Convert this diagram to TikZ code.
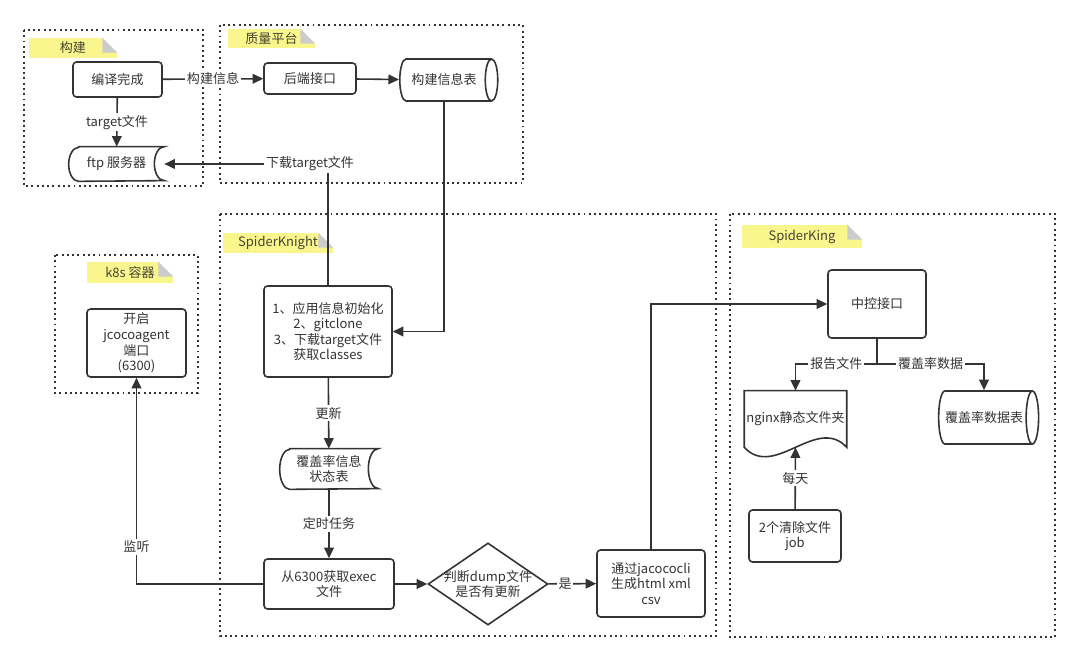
\documentclass[tikz,border=0pt]{standalone}
\usepackage{fontspec}
\setmainfont{Noto Sans CJK SC}
\usepackage{tikz}
\usetikzlibrary{shapes.geometric, arrows.meta, positioning, calc}
\definecolor{mydark}{RGB}{51,51,51}
\definecolor{notefill}{RGB}{250,246,142}
\definecolor{notefold}{RGB}{204,204,204}
\definecolor{notetext}{RGB}{70,70,50}
\tikzset{
  group/.style={draw=mydark, line width=1.1pt, dash pattern=on 1.1pt off 1.9pt},
  tag/.style={rectangle, fill=notefill, text=notetext, inner sep=0pt},
  box/.style={rectangle, draw=mydark, fill=white, align=center,
    rounded corners=2pt, line width=0.9pt, inner sep=1pt},
  store/.style={rectangle, align=center, inner sep=1pt},
  doc/.style={rectangle, align=center, inner sep=1pt},
  dbtable/.style={cylinder, shape border rotate=0, aspect=0.8, draw=mydark,
    fill=white, line width=0.9pt, align=center, inner sep=1pt},
  decision/.style={diamond, aspect=1.46, draw=mydark, fill=white,
    line width=0.9pt, align=center, inner sep=-1pt},
  outline/.style={draw=mydark, line width=0.9pt},
  arrow/.style={-{Triangle[length=6pt, width=5.5pt]}, line width=0.9pt, draw=mydark},
  line/.style={line width=0.9pt, draw=mydark},
  elabel/.style={fill=white, inner sep=1pt}
}
\begin{document}
\begin{tikzpicture}[x=0.02cm, y=-0.02cm, font=\fontsize{7.4}{8.9}\selectfont, text=mydark]
  \useasboundingbox (0,0) rectangle (1080,661);
  % groups
  \draw[group] (24,30) rectangle (203,186);
  \draw[group] (220,25) rectangle (523,183);
  \draw[group] (220,214) rectangle (716,636);
  \draw[group] (55,255) rectangle (198,393);
  \draw[group] (730,214) rectangle (1055,637);
  % group tags
  \node[tag, minimum width=1.76cm, minimum height=0.40cm] (buildtag) at (73,48) {构建};
  \node[tag, minimum width=1.74cm, minimum height=0.38cm] (qatag) at (271.5,38.5) {质量平台};
  \node[tag, minimum width=2.20cm, minimum height=0.40cm] (knighttag) at (278,243) {SpiderKnight};
  \node[tag, minimum width=1.72cm, minimum height=0.42cm] (k8stag) at (130,272.5) {k8s 容器};
  \node[tag, minimum width=2.40cm, minimum height=0.46cm] (kingtag) at (802,236.5) {SpiderKing};
  \foreach \t in {buildtag,qatag,knighttag,k8stag,kingtag}{
    \fill[white] ([xshift=-0.3cm]\t.north east) -- (\t.north east) -- ([yshift=-0.3cm]\t.north east) -- cycle;
    \fill[notefold] ([xshift=-0.3cm]\t.north east) -- ([xshift=-0.3cm,yshift=-0.3cm]\t.north east)
      -- ([yshift=-0.3cm]\t.north east) -- cycle;
  }
  % build + quality platform
  \node[box, minimum width=1.78cm, minimum height=0.70cm] (build) at (117.5,79.5) {编译完成};
  \node[box, minimum width=1.84cm, minimum height=0.62cm] (api) at (310,78.5) {后端接口};
  \node[dbtable, minimum width=0.84cm, minimum height=1.96cm] (buildtab) at (444,80) {构建信息表};
  \node[store, minimum width=1.90cm, minimum height=0.68cm] (ftp) at (116.5,164) {ftp 服务器};
  % spiderknight
  \node[box, minimum width=2.56cm, minimum height=1.82cm] (init) at (328,331.5)
    {1、应用信息初始化\\2、gitclone\\3、下载target文件\\获取classes};
  \node[store, minimum width=1.96cm, minimum height=0.80cm] (state) at (329,469) {覆盖率信息\\状态表};
  \node[box, minimum width=2.60cm, minimum height=1.00cm] (exec) at (329,584) {从6300获取exec\\文件};
  \node[decision] (judge) at (488,584) {判断dump文件\\是否有更新};
  \node[box, minimum width=2.16cm, minimum height=1.34cm] (jacoco) at (651,583.5)
    {通过jacococli\\生成html xml\\csv};
  % k8s
  \node[box, minimum width=1.98cm, minimum height=1.36cm] (agent) at (136.5,343)
    {开启\\jcocoagent\\端口\\(6300)};
  % spiderking
  \node[box, minimum width=1.96cm, minimum height=1.36cm] (ctrl) at (877,304) {中控接口};
  \node[doc, minimum width=1.94cm, minimum height=1.12cm] (nginx) at (795.5,419) {nginx静态文件夹};
  \node[dbtable, minimum width=1.06cm, minimum height=2.00cm] (covtab) at (984,417.5) {覆盖率数据表};
  \node[box, minimum width=1.84cm, minimum height=1.04cm] (job) at (795,536) {2个清除文件\\job};
  \coordinate (fork) at (877,364);

  % stored data outlines
  \foreach \s/\r in {ftp/0.34cm, state/0.40cm}
    \draw[outline] ([xshift=0.2cm]\s.north west) -- (\s.north east)
      arc[start angle=90, end angle=270, x radius=0.2cm, y radius=\r]
      -- ([xshift=0.2cm]\s.south west)
      arc[start angle=270, end angle=90, x radius=0.2cm, y radius=\r] -- cycle;
  % document outline
  \draw[outline] (nginx.north west) -- (nginx.north east) -- (nginx.south east)
    .. controls ([xshift=-0.6cm,yshift=0.65cm]nginx.south east)
    and ([xshift=0.6cm,yshift=-0.65cm]nginx.south west) .. (nginx.south west) -- cycle;

  % connectors
  \draw[arrow] (build) -- node[elabel] {构建信息} (api);
  \draw[arrow] (api) -- (buildtab);
  \draw[arrow] (build) -- node[elabel] {target文件} (ftp);
  \draw[arrow] (init) |- node[elabel, pos=0.555] {下载target文件} (ftp);
  \draw[arrow] (buildtab) |- (init);
  \draw[arrow] (init) -- node[elabel] {更新} (state);
  \draw[arrow] (state) -- node[elabel] {定时任务} (exec);
  \draw[arrow] (exec) -- (judge);
  \draw[arrow] (judge) -- node[elabel, pos=0.35] {是} (jacoco);
  \draw[arrow] (jacoco) |- (ctrl);
  \draw[arrow] (exec) -| node[elabel, pos=0.59] {监听} (agent);
  \draw[line] (ctrl) -- (fork);
  \draw[arrow] (fork) -| node[elabel, pos=0.25] {报告文件} (nginx);
  \draw[arrow] (fork) -| node[elabel, pos=0.25] {覆盖率数据} (covtab);
  \draw[arrow] (job) -- node[elabel] {每天} (nginx.south);
\end{tikzpicture}
\end{document}
